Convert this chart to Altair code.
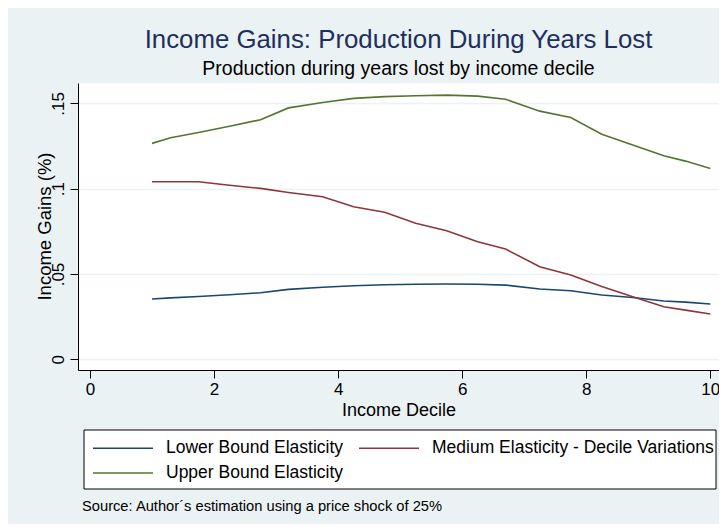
import altair as alt
import pandas as pd

decile = [1, 1.3, 1.75, 2.25, 2.75, 3.2, 3.75, 4.25, 4.75, 5.25, 5.75, 6.25, 6.7,
          7.25, 7.75, 8.25, 8.75, 9.25, 9.6, 10]
lower = [0.0353, 0.0360, 0.0368, 0.0378, 0.0390, 0.0410, 0.0422, 0.0431, 0.0437, 0.0440,
         0.0441, 0.0440, 0.0435, 0.0412, 0.0402, 0.0377, 0.0362, 0.0342, 0.0335, 0.0324]
medium = [0.1041, 0.1041, 0.1041, 0.1020, 0.1002, 0.0978, 0.0953, 0.0894, 0.0862, 0.0797,
          0.0754, 0.0689, 0.0646, 0.0543, 0.0494, 0.0426, 0.0367, 0.0308, 0.0288, 0.0265]
upper = [0.1266, 0.1299, 0.1330, 0.1366, 0.1405, 0.1474, 0.1506, 0.1530, 0.1540, 0.1545,
         0.1549, 0.1543, 0.1525, 0.1455, 0.1418, 0.1320, 0.1256, 0.1193, 0.1162, 0.1119]

series_names = ["Lower Bound Elasticity", "Medium Elasticity - Decile Variations",
                "Upper Bound Elasticity"]
series_colors = ["#1a476f", "#90353b", "#55752f"]
y_ticks = [0, 0.05, 0.1, 0.15]
x_ticks = [0, 2, 4, 6, 8, 10]

rows = []
for name, vals in zip(series_names, [lower, medium, upper]):
    for d, v in zip(decile, vals):
        rows.append({"decile": d, "value": v, "series": name})
df = pd.DataFrame(rows)

FONT = "Liberation Sans"
BG = "#eaf2f3"

legend_box = alt.Chart(alt.Data(values=[{"k": 1}])).mark_rect(
    x=6, x2=638, y=347, y2=406, fill="white", stroke="black", strokeWidth=1
).encode(opacity=alt.value(1))

lines = alt.Chart(df).mark_line(strokeWidth=1.6).encode(
    x=alt.X("decile:Q",
            scale=alt.Scale(domain=[-0.193, 10.14], nice=False, zero=False),
            axis=alt.Axis(values=x_ticks, title="Income Decile", grid=False,
                          domainColor="black", tickColor="black", tickSize=8,
                          labelFontSize=17, labelFont=FONT, labelColor="black",
                          labelPadding=3, titleFont=FONT, titleFontSize=18,
                          titleFontWeight="normal", titleColor="black",
                          titlePadding=4)),
    y=alt.Y("value:Q",
            scale=alt.Scale(domain=[-0.0063, 0.162], nice=False, zero=False),
            axis=alt.Axis(values=y_ticks, title="Income Gains (%)",
                          labelExpr="datum.value == 0 ? '0' : replace(format(datum.value, '.2~f'), '0.', '.')",
                          grid=True, gridColor=BG, gridWidth=1.5,
                          domainColor="black", tickColor="black", tickSize=8,
                          labelFontSize=17, labelFont=FONT, labelColor="black",
                          labelAngle=270, labelAlign="center",
                          labelBaseline="alphabetic", labelPadding=7,
                          titleFont=FONT, titleFontSize=18.5,
                          titleFontWeight="normal", titleColor="black",
                          titleAngle=270, titleAlign="center",
                          titleBaseline="middle", titleX=-34, titleY=143)),
    color=alt.Color("series:N",
                    scale=alt.Scale(domain=series_names, range=series_colors),
                    legend=alt.Legend(title=None, orient="none", legendX=34,
                                      legendY=354, columns=2, direction="horizontal",
                                      symbolType="M-3,0H3", symbolSize=400,
                                      symbolStrokeWidth=1.5, labelOffset=32,
                                      columnPadding=12, rowPadding=5,
                                      labelFont=FONT, labelFontSize=17.5,
                                      labelColor="black", labelLimit=0,
                                      padding=0)),
)

source = alt.Chart(alt.Data(values=[{"k": 1}])).mark_text(
    text="Source: Author\u00b4s estimation using a price shock of 25%",
    align="left", baseline="middle", font=FONT, fontSize=14.7, color="black"
).encode(x=alt.value(4), y=alt.value(424))

chart = alt.layer(legend_box, lines, source).properties(
    width=641, height=287,
    padding={"left": 70, "top": 75, "right": 0, "bottom": 154},
    autosize=alt.AutoSizeParams(type="none"),
    title=alt.Title(
        "Income Gains: Production During Years Lost",
        subtitle="Production during years lost by income decile",
        anchor="middle", font=FONT, fontSize=25.8, fontWeight="normal",
        color="#1f2f5f", subtitleFont=FONT, subtitleFontSize=19.5,
        subtitleColor="black", subtitlePadding=6, offset=4,
    ),
).configure(background=BG).configure_view(fill="white", stroke="transparent")

chart.save("out.html", embed_options={"renderer": "svg", "actions": False})
